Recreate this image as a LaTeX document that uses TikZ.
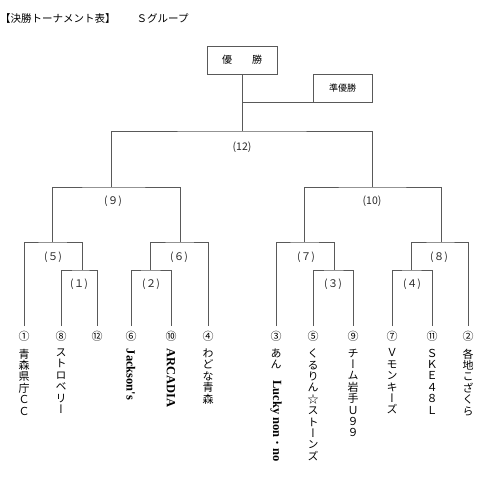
\documentclass[tikz,border=0pt]{standalone}
\usepackage{fontspec}
\setmainfont{Noto Sans CJK JP}
\newfontfamily\tate[RawFeature=+vert]{Noto Sans CJK JP}
\newfontfamily\lat{Liberation Serif}
\newcommand{\lr}[1]{\rotatebox{-90}{\lat\bfseries\fontsize{12.5}{13}\selectfont #1}}
\usetikzlibrary{positioning}

\definecolor{rule}{gray}{0.35}
\tikzset{
  bar/.style={draw=rule, line width=0.7pt},
  box/.style={draw=rule, line width=0.7pt, minimum height=28pt, inner sep=0pt},
  round/.style={font=\fontsize{10.5}{11}\selectfont, text=black!85},
  leaf/.style={anchor=north, inner xsep=0pt, inner ysep=4.5pt, font=\fontsize{11}{11}\selectfont},
  team/.style={anchor=north, align=center, inner sep=0pt, font=\tate\fontsize{11}{11.4}\selectfont},
}

\begin{document}
\begin{tikzpicture}[x=1pt,y=-1pt]
\useasboundingbox (0,0) rectangle (487,480);

\node[anchor=west, inner sep=0pt, font=\fontsize{10.5}{10.5}\selectfont] (title) at (0,19) {【決勝トーナメント表】　　Ｓグループ};

\node[box, minimum width=70pt, font=\fontsize{10}{10}\selectfont] (win) at (242,60) {優　　勝};
\node[box, minimum width=59pt, font=\fontsize{9}{9}\selectfont] (runner) at (342.5,88) {準優勝};

%% seeds
\def\yl{326}
\foreach \s/\x/\c in {1/24/①, 8/61/⑧, 12/97/⑫, 6/131/⑥, 10/171/⑩, 4/208/④,
                      3/276/③, 5/313/⑤, 9/353/⑨, 7/392/⑦, 11/432/⑪, 2/468/②}{
  \node[leaf] (s\s) at (\x,\yl) {\c};
}

\foreach \s/\txt in {1/{青\\森\\県\\庁\\Ｃ\\Ｃ}, 8/{ス\\ト\\ロ\\ベ\\リ\\ー},
    6/{\lr{Jackson's}}, 10/{\lr{ARCADIA}}, 4/{わ\\ど\\な\\青\\森},
    3/{あ\\ん\\\lr{Lucky non{\normalfont\fontsize{11}{11}\selectfont ・}no}},
    5/{く\\る\\り\\ん\\☆\\ス\\ト\\ー\\ン\\ズ},
    9/{チ\\ー\\ム\\岩\\手\\Ｕ\\９\\９}, 7/{Ｖ\\モ\\ン\\キ\\ー\\ズ},
    11/{Ｓ\\Ｋ\\Ｅ\\４\\８\\Ｌ}, 2/{各\\地\\こ\\ざ\\く\\ら}}{
  \node[team, below=3pt of s\s] (t\s) {\txt};
}

%% matches
\def\ya{270} \def\yb{242} \def\yc{187} \def\yd{131}
\coordinate (m1) at (82,\ya);
\coordinate (m2) at (150,\ya);
\coordinate (m3) at (334,\ya);
\coordinate (m4) at (411,\ya);
\coordinate (m5) at (52,\yb);
\coordinate (m6) at (180,\yb);
\coordinate (m7) at (304,\yb);
\coordinate (m8) at (441,\yb);
\coordinate (m9) at (111,\yc);
\coordinate (m10) at (372,\yc);
\coordinate (m12) at (242,\yd);

\draw[bar] (s8.north) |- (m1) -| (s12.north);
\draw[bar] (s6.north) |- (m2) -| (s10.north);
\draw[bar] (s5.north) |- (m3) -| (s9.north);
\draw[bar] (s7.north) |- (m4) -| (s11.north);
\draw[bar] (s1.north) |- (m5) -| (m1);
\draw[bar] (m2) |- (m6) -| (s4.north);
\draw[bar] (s3.north) |- (m7) -| (m3);
\draw[bar] (m4) |- (m8) -| (s2.north);
\draw[bar] (m5) |- (m9) -| (m6);
\draw[bar] (m7) |- (m10) -| (m8);
\draw[bar] (m9) |- (m12) -| (m10);
\draw[bar] (m12) -- (win.south);
\coordinate (rj) at (win.south |- runner.south west);
\draw[bar] (rj) -- (runner.south west);

%% round labels
\node[round] (r12) at (242,147) {(12)};
\node[round] (r9) at (113,201) {(９)};
\node[round] (r10) at (372,201) {(10)};
\node[round] (r5) at (53,257) {(５)};
\node[round] (r6) at (179,257) {(６)};
\node[round] (r7) at (306,257) {(７)};
\node[round] (r8) at (439,257) {(８)};
\node[round] (r1) at (79,284) {(１)};
\node[round] (r2) at (151,284) {(２)};
\node[round] (r3) at (333,284) {(３)};
\node[round] (r4) at (412,284) {(４)};

\end{tikzpicture}
\end{document}
